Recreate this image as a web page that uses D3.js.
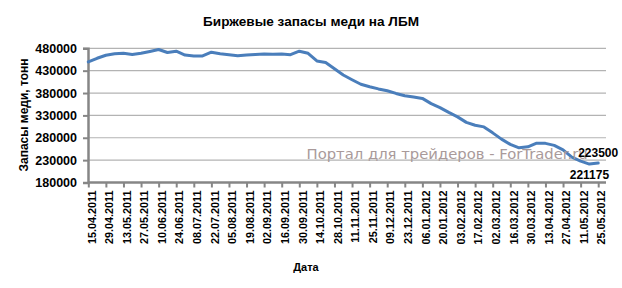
<!DOCTYPE html>
<html>
<head>
<meta charset="utf-8">
<script src="https://cdn.jsdelivr.net/npm/d3@7"></script>
<style>
  body { margin: 0; background: #fff; }
  text { font-family: "Liberation Sans", Arial, sans-serif; }
</style>
</head>
<body>
<div id="chart"></div>
<script>
const dates = [
  '15.04.2011','22.04.2011','29.04.2011','06.05.2011','13.05.2011','20.05.2011','27.05.2011',
  '03.06.2011','10.06.2011','17.06.2011','24.06.2011','01.07.2011','08.07.2011','15.07.2011',
  '22.07.2011','29.07.2011','05.08.2011','12.08.2011','19.08.2011','26.08.2011','02.09.2011',
  '09.09.2011','16.09.2011','23.09.2011','30.09.2011','07.10.2011','14.10.2011','21.10.2011',
  '28.10.2011','04.11.2011','11.11.2011','18.11.2011','25.11.2011','02.12.2011','09.12.2011',
  '16.12.2011','23.12.2011','30.12.2011','06.01.2012','13.01.2012','20.01.2012','27.01.2012',
  '03.02.2012','10.02.2012','17.02.2012','24.02.2012','02.03.2012','09.03.2012','16.03.2012',
  '23.03.2012','30.03.2012','06.04.2012','13.04.2012','20.04.2012','27.04.2012','04.05.2012',
  '11.05.2012','18.05.2012','25.05.2012'
];

const stocks = [
  449500, 457700, 464400, 467700, 468800, 466200, 468800, 472900, 477300, 470600,
  473500, 465000, 462800, 462800, 471300, 468000, 465700, 463500, 465000, 466200,
  467300, 466600, 467300, 465700, 473500, 468800, 451700, 448300, 434500, 420400,
  409800, 399600, 394100, 389200, 385100, 379100, 374000, 371300, 368000, 356300,
  347400, 336700, 326700, 314400, 308000, 304300, 291000, 276900, 265300, 257500,
  259700, 268000, 267500, 263000, 253000, 236700, 227800, 221175, 223500
];

const tickLabels = dates.filter((d, i) => i % 2 === 0);
const yTicks = [180000, 230000, 280000, 330000, 380000, 430000, 480000];
const pointLabels = [
  { date: '18.05.2012', text: '221175', pos: 'below' },
  { date: '25.05.2012', text: '223500', pos: 'above' }
];

const width = 622, height = 288;
const plotLeft = 88, plotRight = 606, plotTop = 48.3, plotBottom = 182.5;

const svg = d3.select('#chart').append('svg')
    .attr('width', width)
    .attr('height', height);

const xScale = d3.scalePoint()
    .domain(dates)
    .range([88.3, 598.2]);

const yScale = d3.scaleLinear()
    .domain([180000, 480000])
    .range([plotBottom, plotTop]);

// title
svg.append('text')
    .attr('x', 311)
    .attr('y', 26)
    .attr('text-anchor', 'middle')
    .style('font-size', '13.6px')
    .style('font-weight', 'bold')
    .text('Биржевые запасы меди на ЛБМ');

// gridlines
svg.append('g')
    .selectAll('line')
    .data(yTicks.slice(1))
    .enter()
    .append('line')
    .attr('x1', plotLeft)
    .attr('x2', plotRight)
    .attr('y1', d => yScale(d))
    .attr('y2', d => yScale(d))
    .attr('stroke', '#b3b3b3')
    .attr('stroke-width', 1.2);

// y axis
const yAxis = d3.axisLeft(yScale)
    .tickValues(yTicks)
    .tickSize(5)
    .tickPadding(6)
    .tickFormat(d => d);

const gy = svg.append('g')
    .attr('transform', `translate(${plotLeft},0)`)
    .call(yAxis);

gy.select('.domain').attr('stroke', '#868686').attr('stroke-width', 2.5);
gy.selectAll('.tick line').attr('stroke', '#868686').attr('stroke-width', 2);
gy.selectAll('.tick text')
    .style('font-size', '12.5px')
    .style('font-weight', 'bold')
    .style('font-family', '"Liberation Sans", Arial, sans-serif')
    .attr('fill', '#000');

// x axis
const xAxis = d3.axisBottom(xScale)
    .tickValues(tickLabels)
    .tickSize(5)
    .tickSizeOuter(0);

const gx = svg.append('g')
    .attr('transform', `translate(0,${plotBottom})`)
    .call(xAxis);

gx.select('.domain')
    .attr('d', `M${plotLeft},0H${plotRight}`)
    .attr('stroke', '#868686')
    .attr('stroke-width', 2.5);
gx.selectAll('.tick line').attr('stroke', '#868686').attr('stroke-width', 2);
gx.selectAll('.tick text')
    .attr('transform', 'rotate(-90)')
    .attr('text-anchor', 'end')
    .attr('x', -8)
    .attr('y', 3)
    .attr('dy', '0.35em')
    .style('font-size', '10.8px')
    .style('font-weight', 'bold')
    .style('font-family', '"Liberation Sans", Arial, sans-serif')
    .attr('fill', '#000');

// axis titles
svg.append('text')
    .attr('x', 306)
    .attr('y', 271)
    .attr('text-anchor', 'middle')
    .style('font-size', '11px')
    .style('font-weight', 'bold')
    .text('Дата');

svg.append('text')
    .attr('transform', 'translate(28,115) rotate(-90)')
    .attr('text-anchor', 'middle')
    .style('font-size', '12px')
    .style('font-weight', 'bold')
    .text('Запасы меди, тонн');

// series line
const line = d3.line()
    .x((d, i) => xScale(dates[i]))
    .y(d => yScale(d));

svg.append('path')
    .datum(stocks)
    .attr('d', line)
    .attr('fill', 'none')
    .attr('stroke', '#4a7ebb')
    .attr('stroke-width', 3)
    .attr('stroke-linejoin', 'round')
    .attr('stroke-linecap', 'round');

// watermark
svg.append('text')
    .attr('x', 306.5)
    .attr('y', 158.5)
    .style('font-family', '"DejaVu Sans", Verdana, sans-serif')
    .style('font-size', '14.8px')
    .attr('fill', '#a99a9a')
    .text('Портал для трейдеров - ForTrader.ru');

// data labels
pointLabels.forEach(p => {
    const i = dates.indexOf(p.date);
    svg.append('text')
        .attr('x', xScale(p.date))
        .attr('y', yScale(stocks[i]) + (p.pos === 'above' ? -6 : 14.5))
        .attr('text-anchor', 'middle')
        .style('font-size', '12px')
        .style('font-weight', 'bold')
        .text(p.text);
});
</script>
</body>
</html>
